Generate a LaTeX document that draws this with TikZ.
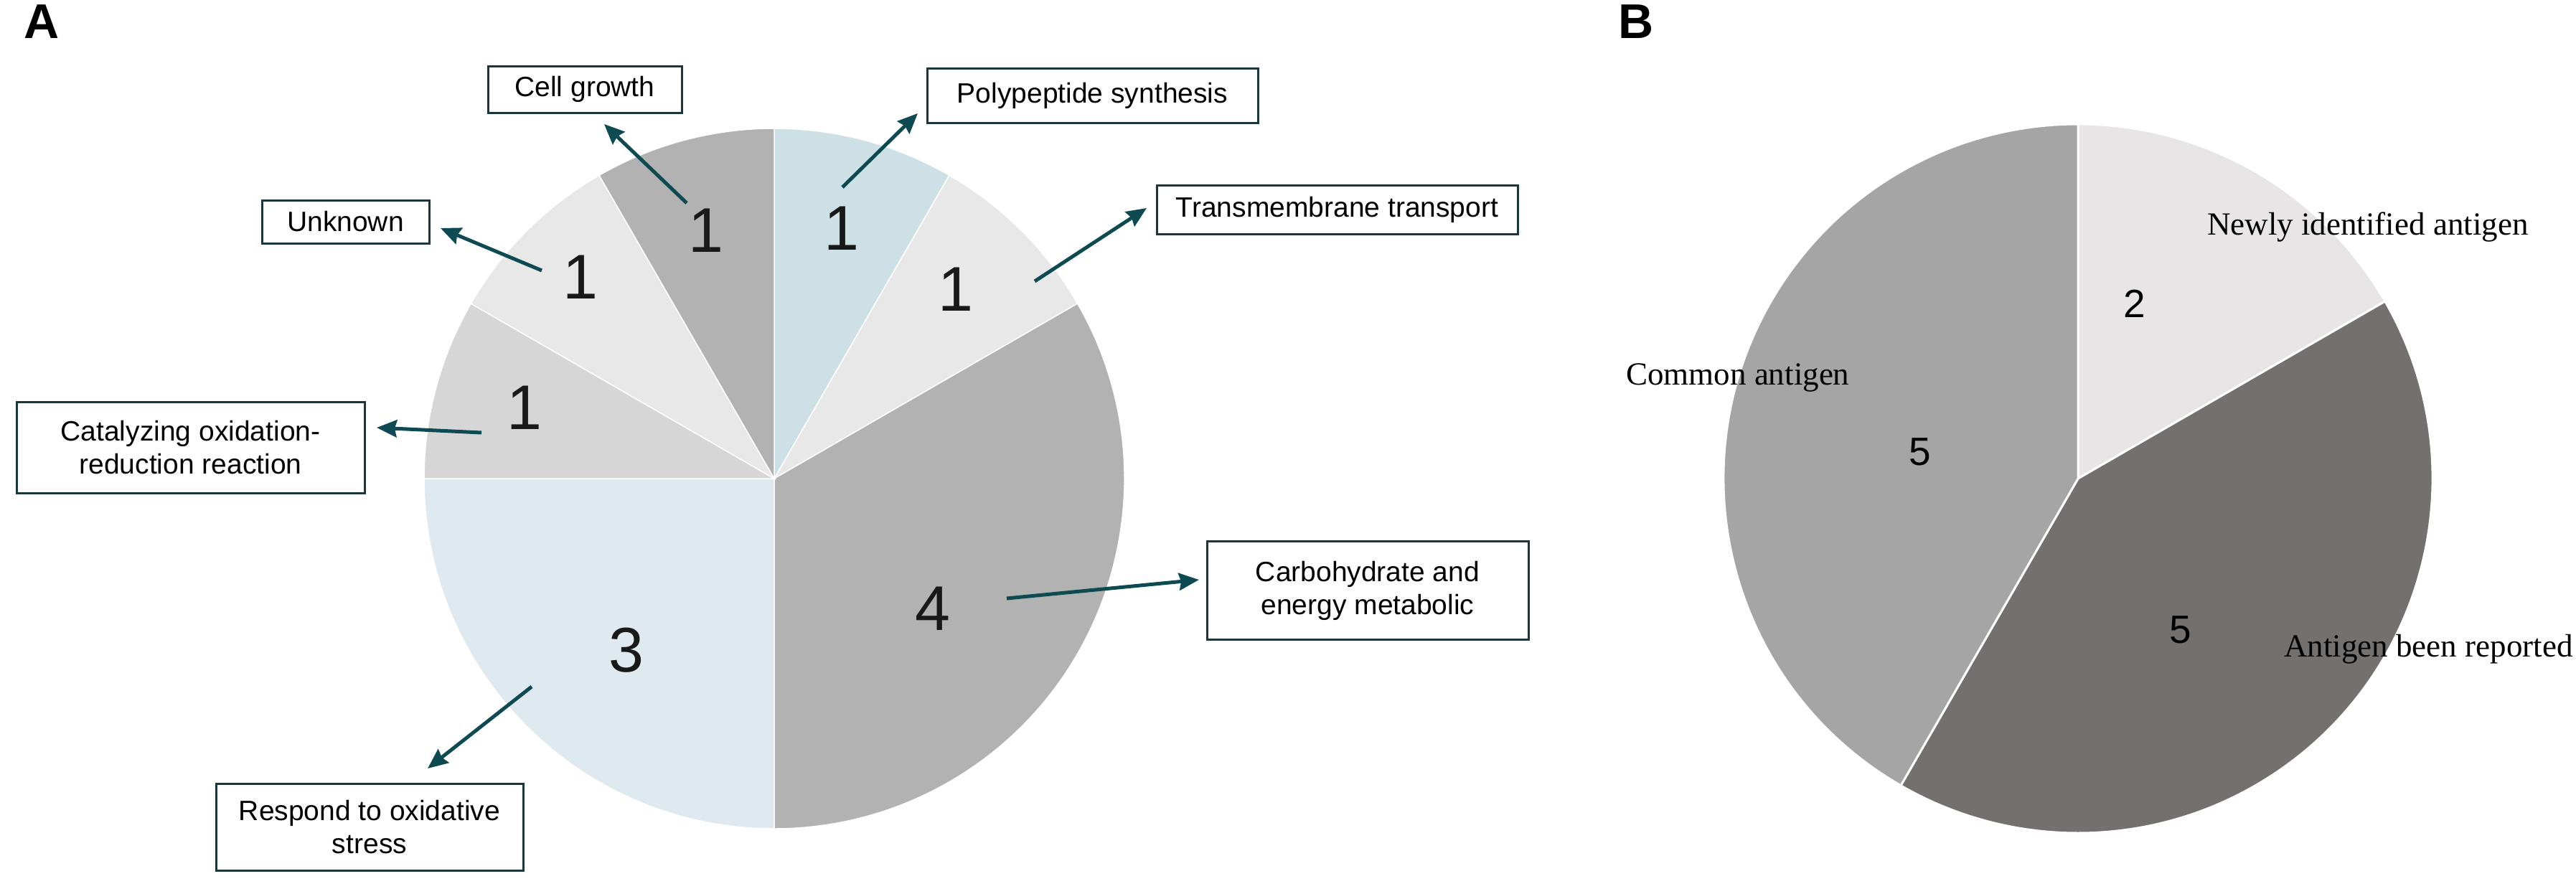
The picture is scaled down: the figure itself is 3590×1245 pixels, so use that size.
\documentclass[tikz,border=0pt]{standalone}
\usepackage{fontspec}
\setmainfont{Liberation Serif}
\newfontfamily\arialf{Liberation Sans}
\usetikzlibrary{arrows.meta}
\definecolor{arrowc}{RGB}{14,74,82}
\definecolor{boxc}{RGB}{25,55,60}
\definecolor{cBlueA}{RGB}{204,224,230}
\definecolor{cBlueB}{RGB}{222,234,239}
\definecolor{cLight}{RGB}{232,232,232}
\definecolor{cMid}{RGB}{214,214,214}
\definecolor{cDark}{RGB}{178,178,178}
\definecolor{bNew}{RGB}{231,229,230}
\definecolor{bRep}{RGB}{117,112,112}
\definecolor{bCom}{RGB}{165,165,165}
\begin{document}
\begin{tikzpicture}[x=1pt,y=-1pt,
  lbox/.style={draw=boxc, line width=3pt, fill=white, inner sep=0pt, align=center, font=\arialf\fontsize{39}{46}\selectfont},
  arr/.style={draw=arrowc, line width=5pt, -{Stealth[length=28pt,width=24pt,inset=3pt]}},
  numA/.style={inner sep=0pt, font=\arialf\fontsize{88}{88}\selectfont, text=black!90},
  numB/.style={inner sep=0pt, font=\arialf\fontsize{55}{55}\selectfont},
  lblB/.style={inner sep=0pt, font=\fontsize{45}{45}\selectfont, anchor=base west},
  panel/.style={inner sep=0pt, font=\arialf\bfseries\fontsize{68}{68}\selectfont},
  sliceA/.style={draw=white, line width=1.5pt},
  sliceB/.style={draw=white, line width=3pt},
]
\useasboundingbox (0,0) rectangle (3590,1245);
\fill[white] (0,0) rectangle (3590,1245);

% ---------- Pie A ----------
\coordinate (cA) at (1079,667);
\path[fill=cBlueA, sliceA] (cA) -- ++(-90:488) arc[start angle=-90, end angle=-60, radius=488] -- cycle;
\path[fill=cLight, sliceA] (cA) -- ++(-60:488) arc[start angle=-60, end angle=-30, radius=488] -- cycle;
\path[fill=cDark, sliceA] (cA) -- ++(-30:488) arc[start angle=-30, end angle=90, radius=488] -- cycle;
\path[fill=cBlueB, sliceA] (cA) -- ++(90:488) arc[start angle=90, end angle=180, radius=488] -- cycle;
\path[fill=cMid, sliceA] (cA) -- ++(180:488) arc[start angle=180, end angle=210, radius=488] -- cycle;
\path[fill=cLight, sliceA] (cA) -- ++(210:488) arc[start angle=210, end angle=240, radius=488] -- cycle;
\path[fill=cDark, sliceA] (cA) -- ++(240:488) arc[start angle=240, end angle=270, radius=488] -- cycle;

\node[numA] (nPoly) at (1173,318) {1};
\node[numA] (nTrans) at (1332,403) {1};
\node[numA] (nCarb) at (1300,848) {4};
\node[numA] (nResp) at (873,906) {3};
\node[numA] (nCat) at (731,568) {1};
\node[numA] (nUnk) at (809,386) {1};
\node[numA] (nCell) at (984,321) {1};

\node[lbox, minimum width=270pt, minimum height=65pt] (bCell) at (815,124.5) {Cell growth};
\node[lbox, minimum width=233pt, minimum height=60pt] (bUnk) at (481.5,309) {Unknown};
\node[lbox, minimum width=461pt, minimum height=76pt] (bPoly) at (1522.5,133) {Polypeptide synthesis};
\node[lbox, minimum width=503pt, minimum height=68pt] (bTrans) at (1863.5,292.5) {Transmembrane transport};
\node[lbox, minimum width=485pt, minimum height=127pt] (bCat) at (265.5,623.5) {Catalyzing oxidation-\\reduction reaction};
\node[lbox, minimum width=448pt, minimum height=137pt] (bCarb) at (1906,823) {Carbohydrate and\\energy metabolic};
\node[lbox, minimum width=428pt, minimum height=121pt] (bResp) at (515,1153) {Respond to oxidative\\stress};

\coordinate (sCell) at (957,283);  \coordinate (tCell) at (842,173);
\coordinate (sPoly) at (1174,261); \coordinate (tPoly) at (1279,158);
\coordinate (sTrans) at (1442,392); \coordinate (tTrans) at (1598,290);
\coordinate (sUnk) at (755,377);   \coordinate (tUnk) at (614,318);
\coordinate (sCat) at (671,603);   \coordinate (tCat) at (525,596);
\coordinate (sCarb) at (1403,834); \coordinate (tCarb) at (1671,808);
\coordinate (sResp) at (741,957);  \coordinate (tResp) at (596,1071);
\draw[arr] (sCell) -- (tCell);
\draw[arr] (sPoly) -- (tPoly);
\draw[arr] (sTrans) -- (tTrans);
\draw[arr] (sUnk) -- (tUnk);
\draw[arr] (sCat) -- (tCat);
\draw[arr] (sCarb) -- (tCarb);
\draw[arr] (sResp) -- (tResp);

% ---------- Pie B ----------
\coordinate (cB) at (2896,667);
\path[fill=bNew, sliceB] (cB) -- ++(-90:494) arc[start angle=-90, end angle=-30, radius=494] -- cycle;
\path[fill=bRep, sliceB] (cB) -- ++(-30:494) arc[start angle=-30, end angle=120, radius=494] -- cycle;
\path[fill=bCom, sliceB] (cB) -- ++(120:494) arc[start angle=120, end angle=270, radius=494] -- cycle;

\node[numB] (mNew) at (2975,423) {2};
\node[numB] (mCom) at (2676,630) {5};
\node[numB] (mRep) at (3039,878) {5};

\node[lblB] (lNew) at (3076,327) {Newly identified antigen};
\node[lblB] (lCom) at (2266,536) {Common antigen};
\node[lblB] (lRep) at (3183,915) {Antigen been reported};

% ---------- Panel labels ----------
\node[panel] (pA) at (58,30) {A};
\node[panel] (pB) at (2280,30) {B};
\end{tikzpicture}
\end{document}
